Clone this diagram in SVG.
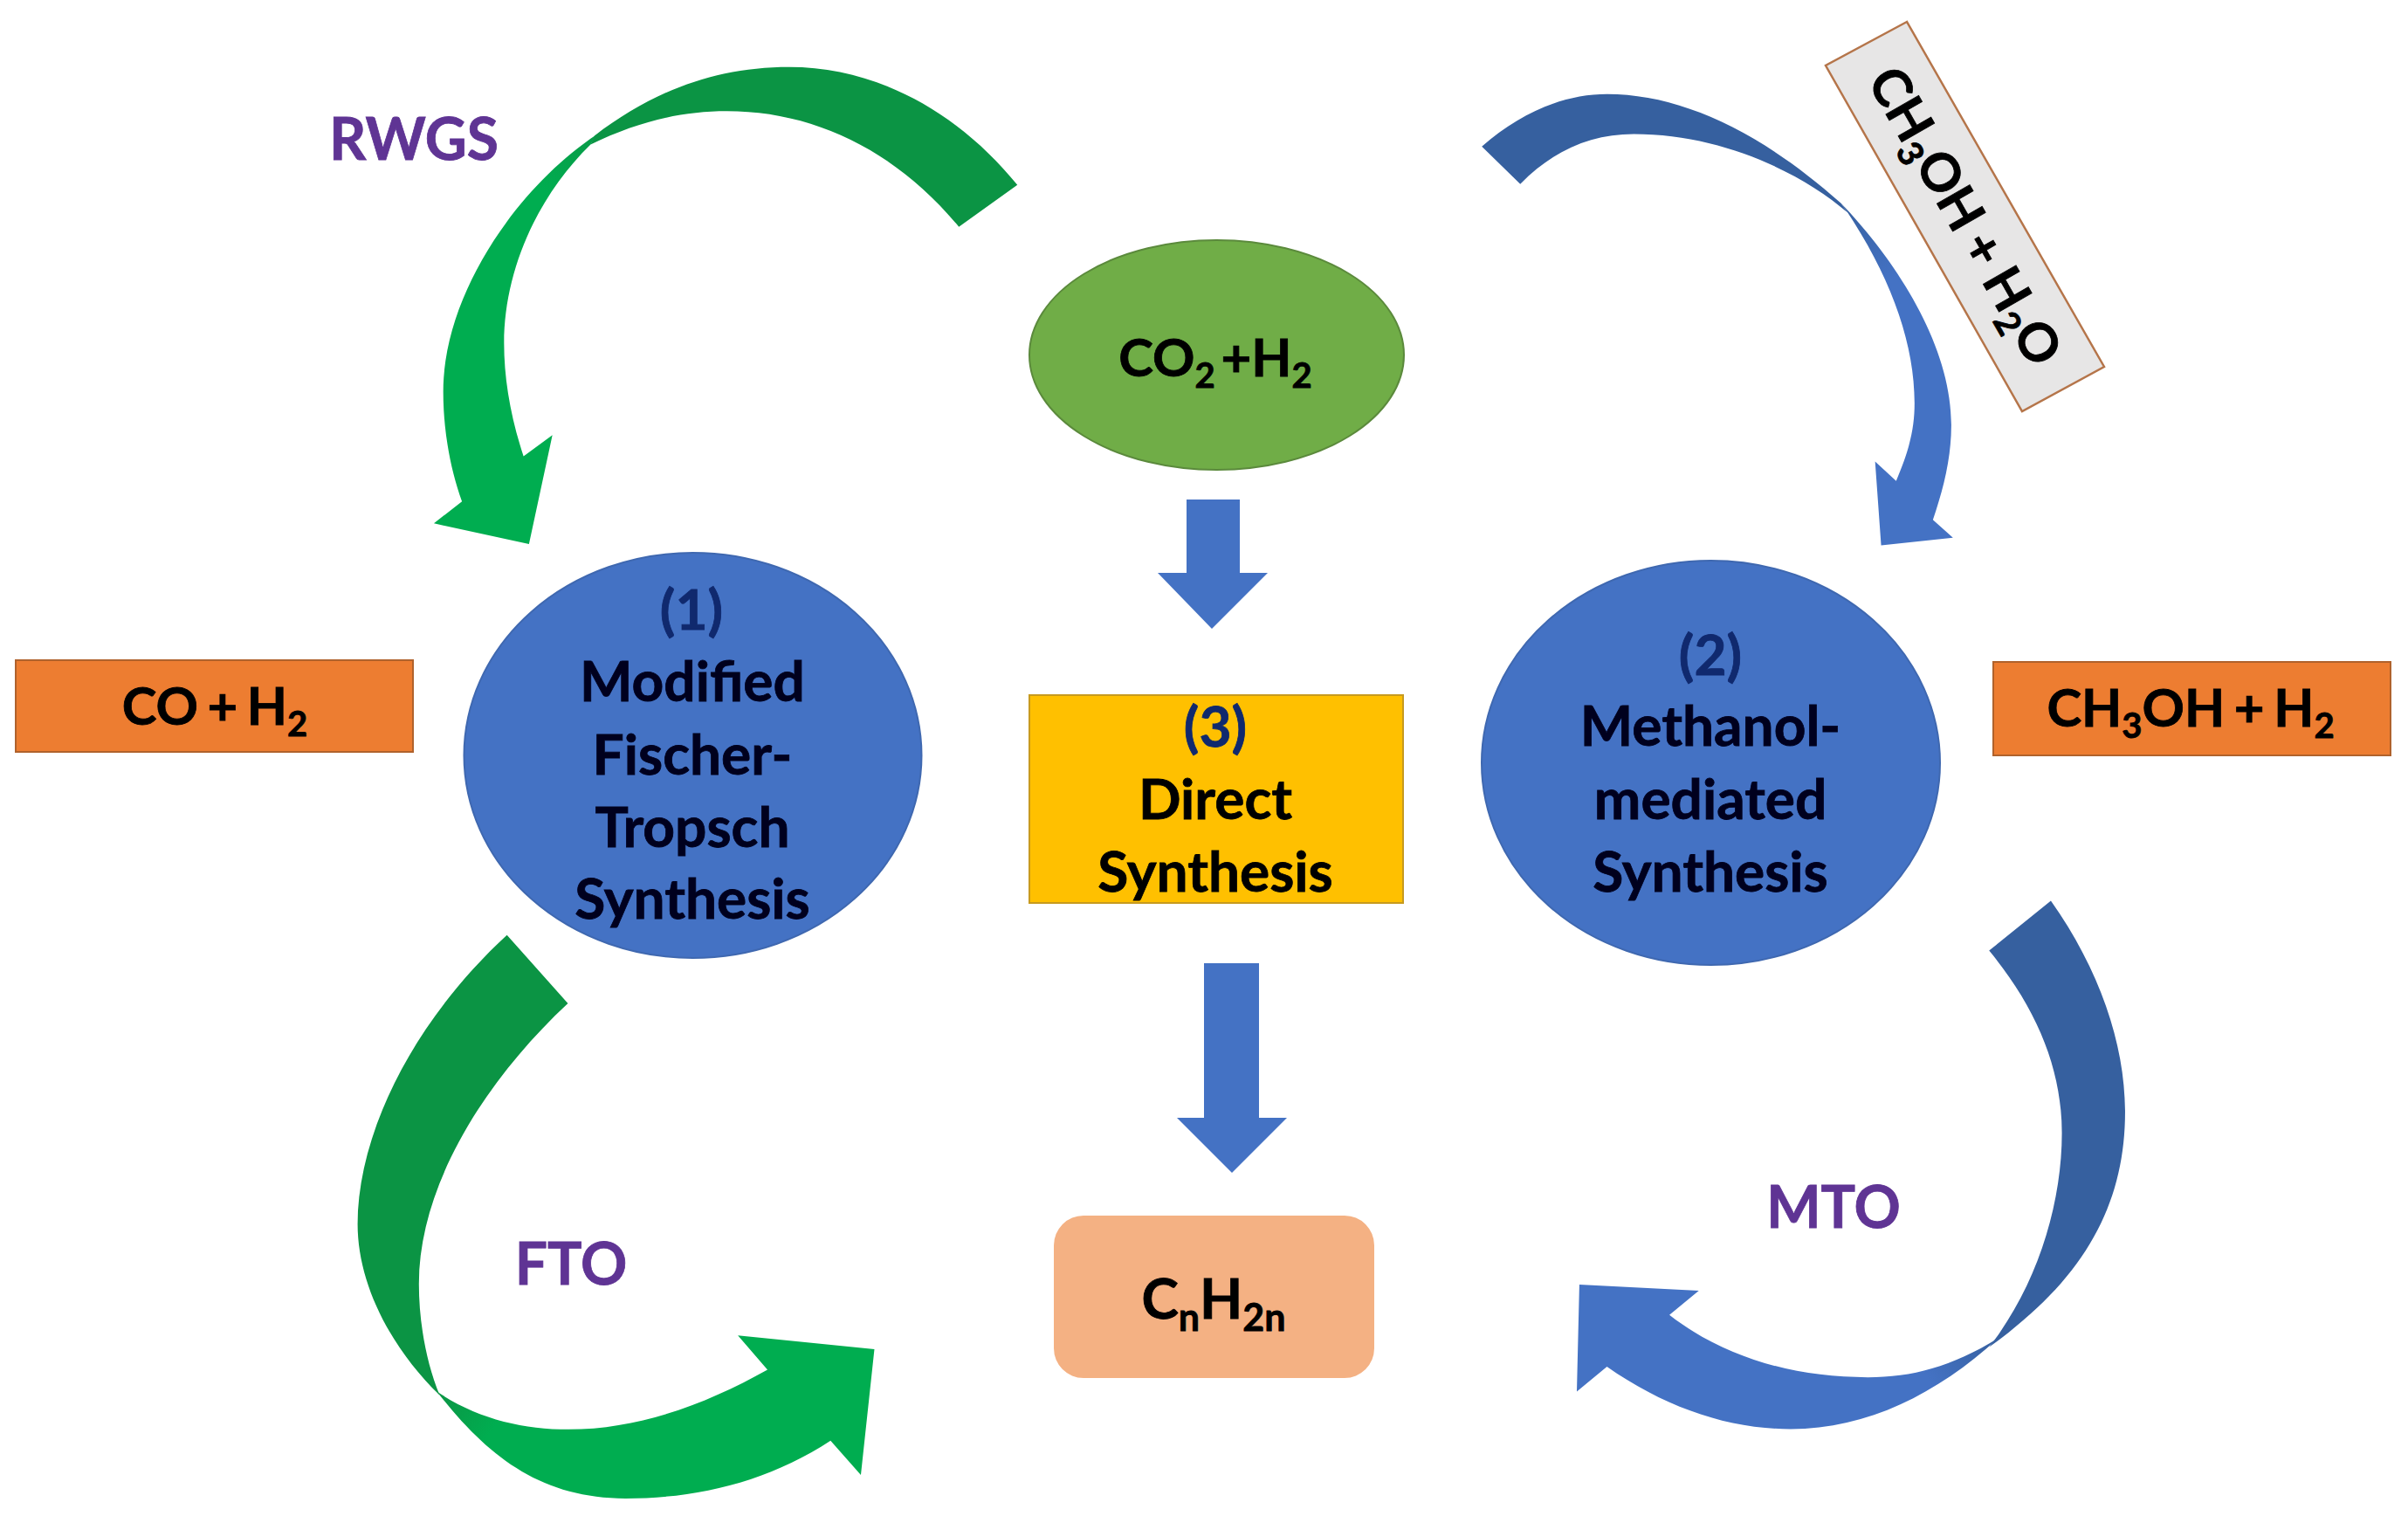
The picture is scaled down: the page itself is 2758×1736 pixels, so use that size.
<svg xmlns="http://www.w3.org/2000/svg" width="2758" height="1736" viewBox="0 0 2758 1736">
<defs>
<linearGradient id="gr1" gradientUnits="userSpaceOnUse" x1="520" y1="210" x2="320" y2="430"><stop offset="0" stop-color="#0b9444"/><stop offset="1" stop-color="#00ad50"/></linearGradient>
<linearGradient id="gb1" gradientUnits="userSpaceOnUse" x1="1120" y1="400" x2="1280" y2="640"><stop offset="0" stop-color="#36609f"/><stop offset="1" stop-color="#4472c4"/></linearGradient>
<linearGradient id="gr2" gradientUnits="userSpaceOnUse" x1="270" y1="1248" x2="420" y2="1360"><stop offset="0" stop-color="#0b9444"/><stop offset="1" stop-color="#00ad50"/></linearGradient>
<linearGradient id="gb2" gradientUnits="userSpaceOnUse" x1="1185" y1="1255" x2="1000" y2="1380"><stop offset="0" stop-color="#36609f"/><stop offset="1" stop-color="#4472c4"/></linearGradient>
</defs>
<style>
text{font-family:Lato,"Liberation Sans",sans-serif;font-weight:700;text-anchor:middle;fill:#000;stroke:#000;stroke-width:.8}
.t{font-size:64px}
.c{font-size:60px;word-spacing:-4px}
.onblue{fill:#00001e;stroke:#00001e}
.num{fill:#10296e;stroke:#10296e}
.lab{font-size:66px;fill:#5f3494;stroke:#5f3494}
.dg{fill:#0b9444}.lb{fill:#4472c4}.db{fill:#36609f}
.or{fill:#ed7d31;stroke:#b0622c;stroke-width:2}
.s{font-size:43px}
.s2{font-size:40px}
</style>
<rect width="2758" height="1736" fill="#fff"/>
<g id="connectors">
<g id="rwgs-arrow" transform="translate(480 60) scale(.4464 .3699)">
<path class="dg" d="M1535 410C1380 180 1170 45 950 45C760 45 600 120 450 258L440 285C560 215 670 182 790 182C1010 182 1220 300 1385 540Z"/>
<path fill="url(#gr1)" d="M455 255C250 420 62 750 62 1050C62 1170 80 1290 110 1390L38 1458L282 1522L342 1185L268 1250C235 1130 218 1010 218 900C218 680 300 450 440 285Z"/>
</g>
<g id="methanol-arrow" transform="translate(1680 90) scale(.3827 .3571)">
<path class="db" d="M45 218C160 110 290 50 420 50C640 50 880 170 1120 400L1140 430C1000 300 760 178 500 178C370 178 260 230 160 338Z"/>
<path fill="url(#gb1)" d="M1120 400C1290 590 1450 860 1450 1110C1450 1220 1425 1320 1395 1415L1455 1472L1240 1497L1222 1228L1285 1290C1325 1190 1340 1120 1340 1040C1340 850 1270 640 1140 430Z"/>
</g>
<g id="fto-arrow" transform="translate(390 1060) scale(.4082 .4273)">
<path class="dg" d="M467 25C200 260 48 560 48 800C48 960 140 1130 278 1258C240 1170 220 1060 220 960C220 700 400 420 638 208Z"/>
<path fill="url(#gr2)" d="M270 1248C380 1320 510 1350 640 1350C840 1350 1030 1280 1198 1190L1115 1098L1498 1135L1460 1472L1375 1380C1200 1490 1000 1535 800 1535C560 1535 410 1420 270 1248Z"/>
</g>
<g id="mto-arrow" transform="translate(1790 1020) scale(.4209 .4082)">
<path class="db" d="M1328 28C1460 220 1530 430 1530 620C1530 880 1420 1090 1160 1280C1290 1110 1358 880 1358 680C1358 500 1290 330 1160 168Z"/>
<path fill="url(#gb2)" d="M1185 1255C1060 1335 950 1365 830 1365C630 1365 440 1310 290 1190L370 1122L45 1105L38 1405L120 1335C280 1450 450 1510 620 1510C830 1510 1020 1410 1185 1255Z"/>
</g>
<polygon id="arrow-co2-direct" class="lb" points="1359,572 1420,572 1420,656 1452,656 1388,720 1326,656 1359,656"/>
<polygon id="arrow-direct-product" class="lb" points="1379,1103 1442,1103 1442,1280 1474,1280 1411,1343 1348,1280 1379,1280"/>
</g>
<g id="node-co2"><ellipse cx="1393.5" cy="406.5" rx="214.5" ry="131.5" fill="#70ad47" stroke="#5b8a3c" stroke-width="2"/>
<text class="c" style="word-spacing:-8px" x="1392" y="431">CO<tspan class="s2" dy="13">2</tspan><tspan dy="-13"> +H</tspan><tspan class="s2" dy="13">2</tspan></text></g>
<g id="node-ft"><ellipse cx="793.5" cy="865" rx="262" ry="232" fill="#4472c4" stroke="#3f68b0" stroke-width="2"/>
<text class="t num" x="792" y="721">(1)</text>
<text class="t onblue" x="793" y="803">Modified</text>
<text class="t onblue" x="793" y="887">Fischer-</text>
<text class="t onblue" x="793" y="970">Tropsch</text>
<text class="t onblue" x="793" y="1052">Synthesis</text></g>
<g id="node-mm"><ellipse cx="1959.5" cy="873.5" rx="262.5" ry="231.5" fill="#4472c4" stroke="#3f68b0" stroke-width="2"/>
<text class="t num" x="1959" y="773">(2)</text>
<text class="t onblue" x="1959" y="854">Methanol-</text>
<text class="t onblue" x="1959" y="938">mediated</text>
<text class="t onblue" x="1959" y="1021">Synthesis</text></g>
<g id="node-direct"><rect x="1179" y="796" width="428" height="238" fill="#ffc000" stroke="#c79a1e" stroke-width="2"/>
<text class="t num" x="1392" y="855">(3)</text>
<text class="t" x="1392" y="938">Direct</text>
<text class="t" x="1392" y="1021">Synthesis</text></g>
<g id="node-product"><rect x="1207" y="1392" width="367" height="186" rx="34" fill="#f4b183"/>
<text class="t" x="1390" y="1510">C<tspan class="s" dy="14">n</tspan><tspan dy="-14">H</tspan><tspan class="s" dy="14">2n</tspan></text></g>
<g id="node-syngas"><rect class="or" x="18" y="756" width="455" height="105"/>
<text class="c" x="246" y="830">CO + H<tspan class="s2" dy="13">2</tspan></text></g>
<g id="node-methanol-h2"><rect class="or" x="2283" y="758" width="455" height="107"/>
<text class="c" x="2509" y="832">CH<tspan class="s2" dy="13">3</tspan><tspan dy="-13">OH + H</tspan><tspan class="s2" dy="13">2</tspan></text></g>
<g id="node-methanol-water"><polygon points="2184,25 2091,75 2316,471 2410,420" fill="#e7e6e6" stroke="#b5754a" stroke-width="2.5"/>
<text class="c" style="word-spacing:-2px" transform="translate(2250 248) rotate(60.2)" x="0" y="20">CH<tspan class="s2" dy="12">3</tspan><tspan dy="-12">OH + H</tspan><tspan class="s2" dy="12">2</tspan><tspan dy="-12">O</tspan></text></g>
<text id="label-rwgs" class="lab" x="474" y="183">RWGS</text>
<text id="label-fto" class="lab" x="654" y="1471">FTO</text>
<text id="label-mto" class="lab" x="2100" y="1406">MTO</text>
</svg>
